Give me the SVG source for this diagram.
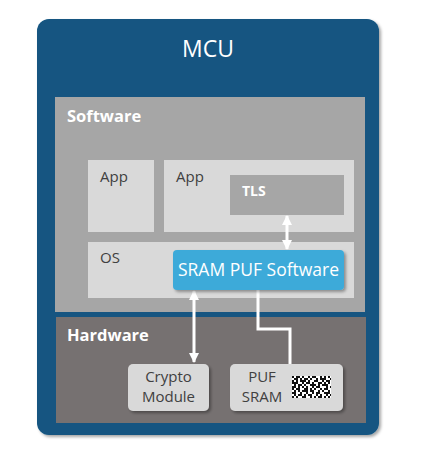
<svg xmlns="http://www.w3.org/2000/svg" width="426" height="458" viewBox="0 0 426 458">
<defs>
<filter id="sh" x="-10%" y="-10%" width="130%" height="130%">
<feDropShadow dx="2" dy="2" stdDeviation="1.5" flood-color="#000" flood-opacity="0.35"/>
</filter>
<marker id="ah" viewBox="0 0 10 10" refX="9" refY="5" markerWidth="3.4" markerHeight="3.4" orient="auto-start-reverse">
<path d="M0,0 L10,5 L0,10 z" fill="#fff"/>
</marker>
</defs>
<style>
text{font-family:"Open Sans","Liberation Sans",sans-serif;}
.lt{fill:#d9d9d9;}
.dk{fill:#a6a6a6;}
.lbl{font-size:15px;fill:#404040;}
.wb{font-size:16.5px;font-weight:bold;fill:#fff;}
.conn{stroke:#fff;stroke-width:3;fill:none;}
</style>
<g id="mcu">
<rect x="37" y="19" width="342" height="416" rx="12" fill="#135581" filter="url(#sh)"/>
<text x="208" y="57" font-size="23" fill="#fff" text-anchor="middle">MCU</text>
</g>
<g id="software">
<rect x="55" y="97" width="310" height="215" class="dk"/>
<text x="67" y="122" class="wb">Software</text>
</g>
<g id="hardware">
<rect x="56" y="317" width="310" height="106" fill="#767171"/>
<text x="67" y="341" class="wb">Hardware</text>
</g>
<g id="app1">
<rect x="88" y="160" width="66" height="72" class="lt"/>
<text x="100" y="182" class="lbl" font-size="16">App</text>
</g>
<g id="app2">
<rect x="164" y="160" width="190" height="72" class="lt"/>
<text x="176" y="182" class="lbl" font-size="16">App</text>
</g>
<g id="tls">
<rect x="230" y="175" width="114" height="40" class="dk"/>
<text x="242" y="196" font-size="14" font-weight="bold" fill="#fff">TLS</text>
</g>
<g id="os">
<rect x="88" y="242" width="266" height="56" class="lt"/>
<text x="100" y="263" class="lbl" font-size="16">OS</text>
</g>
<g id="connectors">
<line x1="287" y1="216" x2="287" y2="249" class="conn" marker-start="url(#ah)" marker-end="url(#ah)"/>
<line x1="194" y1="291" x2="194" y2="362" class="conn" marker-start="url(#ah)" marker-end="url(#ah)"/>
<polyline points="258,290 258,329 290,329 290,364" class="conn"/>
</g>
<g id="sram-puf-software">
<rect x="173" y="250" width="171" height="40" rx="4" fill="#3caad9" filter="url(#sh)"/>
<text x="258.5" y="276" font-size="17.5" fill="#fff" text-anchor="middle">SRAM PUF Software</text>
</g>
<g id="crypto-module">
<rect x="128" y="364" width="81" height="47" rx="5" class="lt" filter="url(#sh)"/>
<text x="168.5" y="382" class="lbl" text-anchor="middle">Crypto</text>
<text x="168.5" y="402" class="lbl" text-anchor="middle">Module</text>
</g>
<g id="puf-sram">
<rect x="230" y="364" width="113" height="47" rx="5" class="lt" filter="url(#sh)"/>
<text x="262" y="382" class="lbl" text-anchor="middle">PUF</text>
<text x="262" y="402" class="lbl" text-anchor="middle">SRAM</text>
<rect x="292" y="376" width="39" height="22" fill="#fff"/>
<path fill="#111" d="M292 376h2v2h-2zM296 376h4v2h-4zM302 376h2v2h-2zM308 376h2v2h-2zM312 376h4v2h-4zM320 376h2v2h-2zM324 376h2v2h-2zM328 376h2v2h-2z
M294 378h4v2h-4zM300 378h2v2h-2zM304 378h4v2h-4zM310 378h2v2h-2zM316 378h2v2h-2zM320 378h6v2h-6zM330 378h1v2h-1z
M292 380h2v2h-2zM296 380h2v2h-2zM300 380h6v2h-6zM308 380h2v2h-2zM314 380h4v2h-4zM322 380h2v2h-2zM326 380h4v2h-4z
M292 382h6v2h-6zM302 382h2v2h-2zM306 382h4v2h-4zM312 382h2v2h-2zM318 382h4v2h-4zM324 382h2v2h-2zM328 382h2v2h-2z
M294 384h2v2h-2zM298 384h4v2h-4zM304 384h2v2h-2zM310 384h6v2h-6zM318 384h2v2h-2zM322 384h6v2h-6z
M292 386h4v2h-4zM298 386h2v2h-2zM302 386h2v2h-2zM306 386h2v2h-2zM312 386h2v2h-2zM316 386h4v2h-4zM326 386h2v2h-2zM330 386h1v2h-1z
M292 388h2v2h-2zM296 388h4v2h-4zM304 388h4v2h-4zM310 388h2v2h-2zM314 388h2v2h-2zM320 388h2v2h-2zM324 388h4v2h-4z
M294 390h2v2h-2zM298 390h2v2h-2zM302 390h6v2h-6zM310 390h4v2h-4zM318 390h2v2h-2zM322 390h2v2h-2zM328 390h2v2h-2z
M292 392h4v2h-4zM300 392h2v2h-2zM306 392h2v2h-2zM312 392h2v2h-2zM316 392h4v2h-4zM324 392h6v2h-6z
M294 394h2v2h-2zM298 394h4v2h-4zM304 394h2v2h-2zM308 394h4v2h-4zM316 394h2v2h-2zM320 394h2v2h-2zM326 394h2v2h-2zM330 394h1v2h-1z
M292 396h2v2h-2zM296 396h2v2h-2zM302 396h4v2h-4zM310 396h2v2h-2zM314 396h2v2h-2zM318 396h4v2h-4zM324 396h2v2h-2zM328 396h2v2h-2z"/>
</g>
</svg>
